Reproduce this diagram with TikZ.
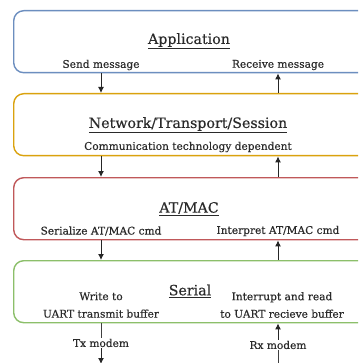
\documentclass[tikz,border=0pt]{standalone}
\usepackage{fontspec}
\setmainfont{DejaVu Serif}
\newfontfamily\labelfont[FakeBold=0.35]{DejaVu Serif}
\usepackage{xcolor}
\usepackage{tikz}
\usetikzlibrary{arrows.meta,positioning,calc}
\definecolor{appblue}{HTML}{6C8EBF}
\definecolor{netorange}{HTML}{DAA20E}
\definecolor{macred}{HTML}{C0585A}
\definecolor{sergreen}{HTML}{8CBF6A}
\definecolor{inkgray}{HTML}{2A2A2A}

\begin{document}
\begin{tikzpicture}[x=1pt,y=-1pt,
  every node/.style={font=\labelfont\fontsize{10.6}{12.5}\selectfont,align=center,inner sep=1pt,text=inkgray},
  layer/.style={rounded corners=10pt,fill=white,minimum width=380pt,minimum height=62pt,line width=1.4pt,anchor=north west},
  title/.style={font=\labelfont\fontsize{14.2}{16}\selectfont},
  twoline/.style={font=\labelfont\fontsize{10.6}{17.5}\selectfont},
  flow/.style={-{Latex[length=6pt,width=6pt]},draw=black!85,line width=1pt},
  wire/.style={draw=black!75,line width=1pt}
]
  \useasboundingbox (0,0) rectangle (358,363);
  \clip (0,0) rectangle (358,363);
  \node[layer,draw=appblue] (app) at (13,10) {};
  \node[layer,draw=netorange] (net) at (13,93) {};
  \node[layer,draw=macred] (mac) at (13,177) {};
  \node[layer,draw=sergreen] (ser) at (13,260) {};
  \node[title] (apptitle) at (189,41) {\underline{Application}};
  \node (snd) at (101,65) {Send message};
  \node (rcv) at (278,65) {Receive message};
  \node[title] (nettitle) at (188,125) {\underline{Network/Transport/Session}};
  \node (comm) at (188,147) {Communication technology dependent};
  \node[title] (mactitle) at (189,209) {\underline{AT/MAC}};
  \node (serz) at (101,231) {Serialize AT/MAC cmd};
  \node (intp) at (278,231) {Interpret AT/MAC cmd};
  \node[title] (sertitle) at (190,291) {\underline{Serial}};
  \node[twoline] (wrt) at (101,305) {Write to\\UART transmit buffer};
  \node[twoline] (irq) at (282,305) {Interrupt and read\\to UART recieve buffer};
  \node (tx) at (101,343) {Tx modem};
  \node (rx) at (278,345) {Rx modem};
  \coordinate (txend) at (101,364);
  \coordinate (rxend) at (278,364);
  \draw[flow] (snd |- app.south) -- (snd |- net.north);
  \draw[flow] (rcv |- net.north) -- (rcv |- app.south);
  \draw[flow] (snd |- net.south) -- (snd |- mac.north);
  \draw[flow] (rcv |- mac.north) -- (rcv |- net.south);
  \draw[flow] (snd |- mac.south) -- (snd |- ser.north);
  \draw[flow] (rcv |- ser.north) -- (rcv |- mac.south);
  \draw[wire] (tx |- ser.south) -- (tx.north);
  \draw[flow] (tx.south) -- (txend);
  \draw[wire] (rxend) -- (rx.south);
  \draw[flow] (rx.north) -- (rx |- ser.south);
\end{tikzpicture}
\end{document}
